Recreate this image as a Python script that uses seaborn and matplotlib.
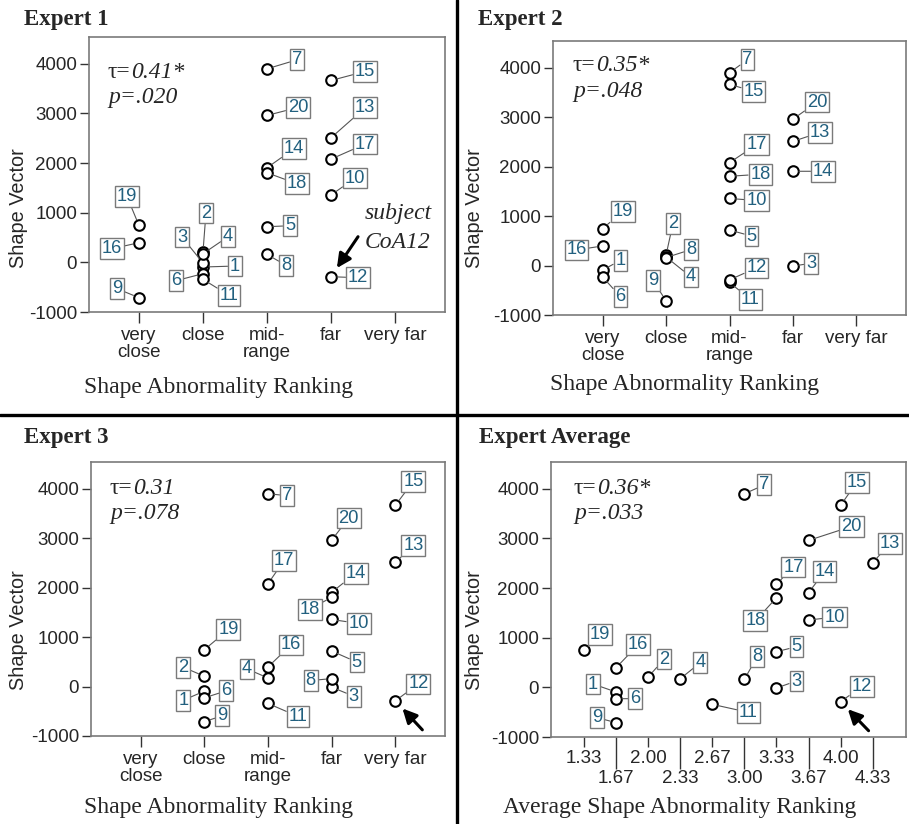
import numpy as np
import pandas as pd
import seaborn as sns
import matplotlib.pyplot as plt
from matplotlib.lines import Line2D

# subject number, shape vector and the three experts' rankings (1=very close ... 5=very far)
subjects = list(range(1, 21))
shape_vector = [-94, 208, -13, 174, 718, -228, 3899, 161, -711, 1356,
                -342, -289, 2510, 1906, 3664, 396, 2080, 1805, 745, 2960]
expert1 = [2, 2, 2, 2, 3, 2, 3, 3, 1, 4, 2, 4, 4, 3, 4, 1, 4, 3, 1, 3]
expert2 = [1, 2, 4, 2, 3, 1, 3, 2, 2, 3, 3, 3, 4, 4, 3, 1, 3, 3, 1, 4]
expert3 = [2, 2, 4, 3, 4, 2, 3, 4, 2, 4, 3, 5, 5, 4, 5, 3, 3, 4, 2, 4]

rank_labels = ['very\nclose', 'close', 'mid-\nrange', 'far', 'very far']
avg_ticks = [4, 5, 6, 7, 8, 9, 10, 11, 12, 13]  # thirds
avg_labels = ['1.33', '1.67', '2.00', '2.33', '2.67', '3.00', '3.33', '3.67', '4.00', '4.33']

titles = ['Expert 1', 'Expert 2', 'Expert 3', 'Expert Average']
taus = ['0.41*', '0.35*', '0.31', '0.36*']
pvals = ['.020', '.048', '.078', '.033']

df = pd.DataFrame({'subject': subjects, 'sv': shape_vector,
                   'e1': expert1, 'e2': expert2, 'e3': expert3})
df['avg'] = (df.e1 + df.e2 + df.e3) / 3

# label box offsets from each point, in pixels (dx, dy up)
offs1 = {7: (30, 9), 15: (34, 9), 20: (31, 8), 13: (34, 30), 17: (34, 15), 14: (27, 19),
         18: (30, -11), 10: (24, 17), 19: (-12, 29), 16: (-27, -6), 5: (23, 1), 2: (3, 39),
         3: (-21, 26), 4: (25, 17), 1: (32, 1), 6: (-27, -7), 11: (26, -16), 8: (19, -11),
         12: (27, -1), 9: (-22, 9)}
offs2 = {7: (18, 13), 15: (24, -7), 20: (24, 17), 13: (27, 9), 14: (30, 0), 17: (27, 18),
         18: (31, 2), 10: (27, -2), 5: (22, -6), 12: (27, 12), 11: (21, -17), 3: (18, 3),
         19: (20, 17), 16: (-26, -4), 1: (18, 10), 6: (18, -20), 2: (7, 32), 8: (25, 8),
         4: (25, -20), 9: (-13, 20)}
offs3 = {7: (19, -2), 15: (18, 24), 20: (17, 22), 13: (18, 17), 17: (16, 23), 14: (24, 19),
         18: (-22, -12), 10: (27, -4), 19: (24, 20), 16: (23, 22), 4: (-21, 9), 5: (25, -11),
         2: (-21, 9), 8: (-21, -2), 3: (22, -9), 12: (23, 17), 1: (-21, -9), 6: (22, 7),
         11: (30, -13), 9: (18, 6)}
offs4 = {7: (20, 9), 15: (16, 23), 20: (43, 14), 13: (17, 19), 17: (17, 17), 14: (16, 21),
         18: (-21, -23), 10: (26, 3), 19: (16, 16), 16: (22, 23), 2: (16, 18), 4: (20, 16),
         8: (13, 23), 5: (20, 5), 3: (20, 7), 12: (21, 15), 1: (-23, 8), 6: (19, 0),
         11: (36, -8), 9: (-19, 5)}

sns.set_style('white')
plt.rcParams['font.family'] = ['Liberation Sans', 'DejaVu Sans']
SERIF = ['Liberation Serif', 'DejaVu Serif']
PX = 0.72  # points per pixel at dpi 100
lab_col = '#22607f'

fig = plt.figure(figsize=(9.09, 8.24), dpi=100)
W, H = 909, 824


def add_ax(l, r, t, b):
    return fig.add_axes([l / W, 1 - b / H, (r - l) / W, (b - t) / H])


axes = [add_ax(89, 445, 37, 312), add_ax(553, 906, 41, 315),
        add_ax(91, 445, 462, 736), add_ax(551, 906, 462, 737)]
xcols = ['e1', 'e2', 'e3', 'avg']
offsets = [offs1, offs2, offs3, offs4]
stat_pos = [(19, 35), (20, 25), (19, 26), (23, 26)]

for i, ax in enumerate(axes):
    xc = xcols[i]
    sns.scatterplot(data=df, x=xc, y='sv', ax=ax, s=58, facecolor='white',
                    edgecolor='black', linewidth=1.5, zorder=3, legend=False)
    for s, x, y in zip(df.subject, df[xc], df.sv):
        dx, dy = offsets[i][s]
        ax.annotate(str(s), (x, y), xytext=(dx * PX, dy * PX), textcoords='offset points',
                    ha='center', va='center', fontsize=13.2, color=lab_col, zorder=4,
                    bbox=dict(boxstyle='square,pad=0.1', fc='white', ec='#7a7a7a', lw=1),
                    arrowprops=dict(arrowstyle='-', color='#555555', lw=0.8,
                                    shrinkA=0, shrinkB=4.3))
    ax.set_ylim(-1000, 4540)
    ax.set_yticks([-1000, 0, 1000, 2000, 3000, 4000])
    ax.set_yticklabels(['-1000', '0', '1000', '2000', '3000', '4000'])
    if xc == 'avg':
        ax.set_xlim(0.99, 4.68)
        ax.set_xticks([t / 3 for t in avg_ticks[0::2]], avg_labels[0::2])
        ax.set_xticks([t / 3 for t in avg_ticks[1::2]], avg_labels[1::2], minor=True)
        ax.tick_params(axis='x', which='major', length=7.5, pad=2)
        ax.tick_params(axis='x', which='minor', length=23, pad=0.5)
    else:
        ax.set_xlim(0.22, 5.78)
        ax.set_xticks([1, 2, 3, 4, 5], rank_labels)
        ax.tick_params(axis='x', length=8, pad=3)
        for lab in ax.get_xticklabels():
            lab.set_linespacing(0.95)
    ax.tick_params(axis='both', which='both', direction='out', labelsize=13.5,
                   color='#333333', width=1, bottom=True, left=True)
    ax.tick_params(axis='y', length=6.5, pad=2)
    ax.set_xlabel('')
    ax.set_ylabel('')
    for sp in ax.spines.values():
        sp.set_color('#7a7a7a')
        sp.set_linewidth(1.2)

    sx, sy = stat_pos[i]
    t1 = ax.annotate('τ=', xy=(0, 1), xycoords='axes fraction',
                     xytext=(sx * PX, -sy * PX), textcoords='offset points',
                     ha='left', va='center', fontsize=17, family=SERIF)
    ax.annotate(taus[i], xy=(1, 0), xycoords=t1, ha='left', va='bottom',
                fontsize=17, family=SERIF, style='italic')
    ax.annotate('p=' + pvals[i], xy=(0, 1), xycoords='axes fraction',
                xytext=(sx * PX, -(sy + 26) * PX), textcoords='offset points',
                ha='left', va='center', fontsize=17, family=SERIF, style='italic')

# subject CoA12 callouts
ax = axes[0]
ax.annotate('subject', xy=(1, 1), xycoords='axes fraction', xytext=(-13 * PX, -176 * PX),
            textcoords='offset points', ha='right', va='center', fontsize=17,
            family=SERIF, style='italic')
ax.annotate('CoA12', xy=(1, 1), xycoords='axes fraction', xytext=(-15 * PX, -205 * PX),
            textcoords='offset points', ha='right', va='center', fontsize=17,
            family=SERIF, style='italic')
arrow = dict(arrowstyle='-|>,head_length=0.85,head_width=0.42', color='black', lw=2.2,
             shrinkA=0, shrinkB=7.5, mutation_scale=10)
axes[0].annotate('', xy=(4, -289), xytext=(27 * PX, 40 * PX), textcoords='offset points',
                 arrowprops=arrow)
axes[2].annotate('', xy=(5, -289), xytext=(27 * PX, -29 * PX), textcoords='offset points',
                 arrowprops=arrow)
axes[3].annotate('', xy=(4, -289), xytext=(28 * PX, -29 * PX), textcoords='offset points',
                 arrowprops=arrow)

# panel titles and axis labels
for (x, y), t in zip([(24, 20), (478, 20), (24, 438), (479, 438)], titles):
    fig.text(x / W, 1 - y / H, t, ha='left', va='center', fontsize=16.5,
             fontweight='bold', family=SERIF)
for x, y in [(19, 208), (475, 208), (19, 630), (475, 630)]:
    fig.text(x / W, 1 - y / H, 'Shape Vector', rotation=90, ha='center', va='center',
             fontsize=14.3)
xlabs = ['Shape Abnormality Ranking'] * 3 + ['Average Shape Abnormality Ranking']
for (x, y), t in zip([(219, 387), (685, 385), (219, 808), (680, 808)], xlabs):
    fig.text(x / W, 1 - y / H, t, ha='center', va='center', fontsize=17, family=SERIF)

# panel dividers
fig.add_artist(Line2D([457 / W, 457 / W], [0, 1], color='black', lw=2.4,
                      transform=fig.transFigure))
fig.add_artist(Line2D([0, 1], [1 - 415 / H, 1 - 415 / H], color='black', lw=2.4,
                      transform=fig.transFigure))

fig.savefig('out.png', dpi=100)
